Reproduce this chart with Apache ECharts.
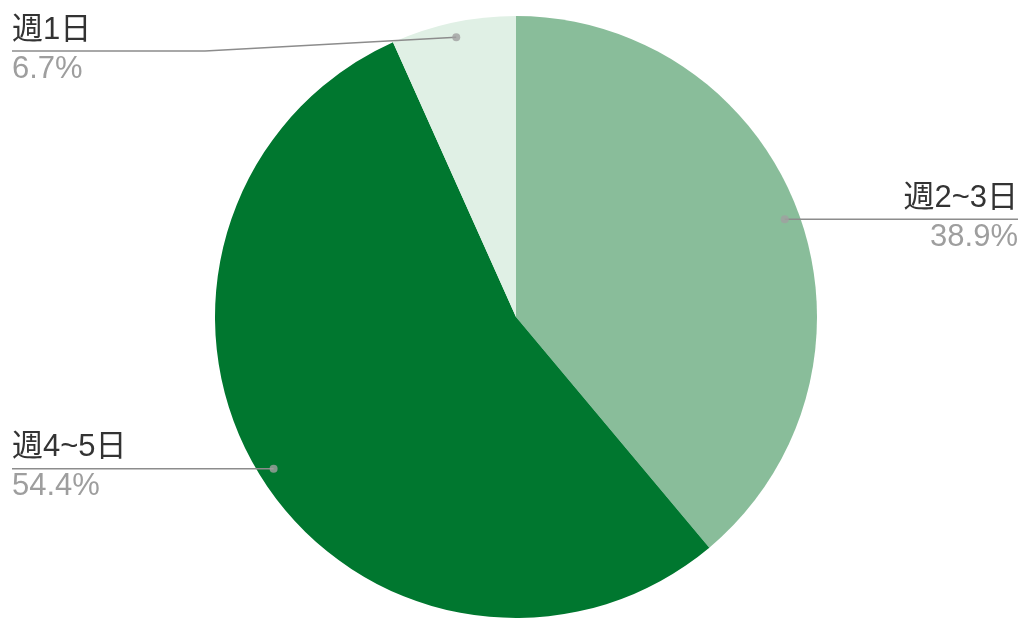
<!DOCTYPE html>
<html>
<head>
<meta charset="utf-8">
<script src="https://cdn.jsdelivr.net/npm/echarts@6/dist/echarts.min.js"></script>
<style>
  html, body { margin: 0; padding: 0; background: #fff; }
  #main { width: 1028px; height: 634px; }
</style>
</head>
<body>
<div id="main"></div>
<script>
  // 出勤日数の割合
  const categories = ['週2~3日', '週4~5日', '週1日']
  const percents = [38.9, 54.4, 6.7]
  const colors = ['#89bd9a', '#00772f', '#e0f0e5']

  const CX = 516
  const CY = 317
  const R = 301
  const DOT_R = 0.95
  const FONT = '"Liberation Sans", "Noto Sans CJK JP", sans-serif'

  const total = percents.reduce((a, b) => a + b, 0)
  // 各スライスの中央位置 (0-100)
  const mids = []
  let acc = 0
  percents.forEach(v => {
    mids.push((acc + v / 2) / total * 100)
    acc += v
  })

  function dotPoint(i) {
    const a = mids[i] / 100 * Math.PI * 2
    return [CX + DOT_R * R * Math.sin(a), CY - DOT_R * R * Math.cos(a)]
  }

  const pieData = categories.map((name, i) => ({ name: name, value: percents[i] }))

  const chart = echarts.init(document.getElementById('main'))
  const option = {
    animation: false,
    color: colors,
    polar: { center: [CX, CY], radius: R },
    angleAxis: { type: 'value', min: 0, max: 100, startAngle: 90, clockwise: true, show: false },
    radiusAxis: { type: 'value', min: 0, max: 1, show: false },
    series: [
      {
        type: 'pie',
        center: [CX, CY],
        radius: R,
        startAngle: 90,
        clockwise: true,
        silent: true,
        z: 2,
        label: { show: false },
        labelLine: { show: false },
        data: pieData,
      },
      {
        // ラベル用の透明なパイ (線をスライスの上に描く)
        type: 'pie',
        center: [CX, CY],
        radius: R,
        startAngle: 90,
        clockwise: true,
        silent: true,
        z: 4,
        itemStyle: { color: 'rgba(0,0,0,0)', borderWidth: 0 },
        data: pieData,
        label: {
          show: true,
          position: 'outside',
          formatter: p => '{n|' + p.name + '}\n{p|' + p.value + '%}',
          rich: {
            n: { fontSize: 31, color: '#333333', lineHeight: 42, fontFamily: FONT },
            p: { fontSize: 31, color: '#9e9e9e', lineHeight: 36, fontFamily: FONT },
          },
        },
        labelLine: {
          show: true,
          lineStyle: { color: '#8c8c8c', width: 1.5, opacity: 1 },
        },
        labelLayout: function (params) {
          const i = params.dataIndex
          const d = dotPoint(i)
          const right = d[0] > CX
          const lineY = Math.max(d[1], 51)
          const endX = right ? 1018 : 12
          const pts = [d]
          if (lineY !== d[1]) {
            pts.push([right ? 1028 - 205 : 205, lineY])
          }
          pts.push([endX, lineY])
          return {
            x: endX,
            y: lineY - 42,
            align: right ? 'right' : 'left',
            verticalAlign: 'top',
            labelLinePoints: pts,
          }
        },
      },
      {
        // ラベル線の始点
        type: 'scatter',
        coordinateSystem: 'polar',
        silent: true,
        z: 5,
        symbolSize: 8,
        itemStyle: { color: '#a0a0a0' },
        data: mids.map(m => [DOT_R, m]),
      },
    ],
  }
  chart.setOption(option)
</script>
</body>
</html>
